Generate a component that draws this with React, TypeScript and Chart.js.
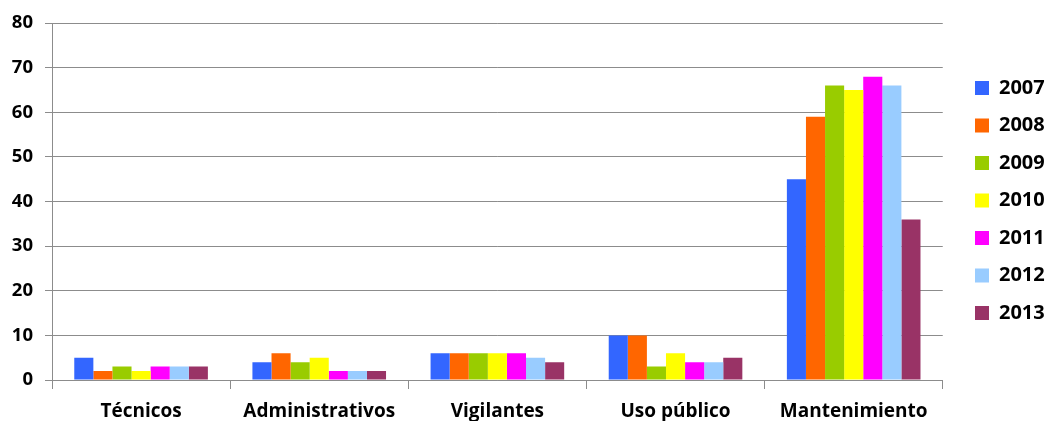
import React, { useEffect, useRef } from "react";
import { Chart, registerables } from "chart.js";

Chart.register(...registerables);

const categories = ["Técnicos", "Administrativos", "Vigilantes", "Uso público", "Mantenimiento"];
const years = ["2007", "2008", "2009", "2010", "2011", "2012", "2013"];
const v2007 = [5, 4, 6, 10, 45];
const v2008 = [2, 6, 6, 10, 59];
const v2009 = [3, 4, 6, 3, 66];
const v2010 = [2, 5, 6, 6, 65];
const v2011 = [3, 2, 6, 4, 68];
const v2012 = [3, 2, 5, 4, 66];
const v2013 = [3, 2, 4, 5, 36];
const seriesValues = [v2007, v2008, v2009, v2010, v2011, v2012, v2013];
const colors = ["#3366FF", "#FF6600", "#99CC00", "#FFFF00", "#FF00FF", "#99CCFF", "#993366"];
const yMin = 0;
const yMax = 80;
const yStep = 10;

const FONT = "'Open Sans', 'Liberation Sans', sans-serif";
const GRID = "#8c8c8c";

const legendMover = {
  id: "legendMover",
  afterLayout(chart: any) {
    const lg = chart.legend;
    if (!lg) return;
    const w = lg.width;
    const h = lg.height;
    lg.left = 957.5;
    lg.right = lg.left + w;
    lg.top = lg.top - 20;
    lg.bottom = lg.top + h;
  },
};

export default function App() {
  const ref = useRef<HTMLCanvasElement | null>(null);
  useEffect(() => {
    document.body.style.margin = "0";
    if (!ref.current) return;
    const chart = new Chart(ref.current, {
      type: "bar",
      data: {
        labels: categories,
        datasets: years.map((y, i) => ({
          label: y,
          data: seriesValues[i],
          backgroundColor: colors[i],
          borderWidth: 0,
          categoryPercentage: 0.75,
          barPercentage: 1,
        })),
      },
      options: {
        animation: false,
        responsive: false,
        maintainAspectRatio: false,
        layout: { padding: { top: 20, left: 0, right: 8, bottom: 0 } },
        plugins: {
          tooltip: { enabled: false },
          legend: {
            position: "right",
            align: "center",
            labels: {
              boxWidth: 14,
              boxHeight: 14,
              padding: 17.5,
              color: "#000",
              font: { family: FONT, size: 20, weight: "bold" },
            },
          },
        },
        scales: {
          x: {
            afterFit: (s: any) => { s.height = 41; },
            grid: {
              display: true,
              offset: true,
              drawOnChartArea: false,
              drawTicks: true,
              tickLength: 9,
              color: GRID,
            },
            border: { display: true, color: GRID, width: 1 },
            ticks: {
              color: "#000",
              padding: 11,
              font: { family: FONT, size: 19, weight: "bold" },
            },
          },
          y: {
            min: yMin,
            max: yMax,
            afterFit: (s: any) => { s.width = 52; },
            grid: {
              color: GRID,
              drawTicks: true,
              tickLength: 7,
            },
            border: { display: true, color: GRID, width: 1 },
            ticks: {
              stepSize: yStep,
              color: "#000",
              padding: 12,
              font: { family: FONT, size: 18.5, weight: "bold" },
            },
          },
        },
      },
      plugins: [legendMover],
    } as any);
    return () => chart.destroy();
  }, []);
  return <canvas ref={ref} width={1048} height={421} style={{ display: "block" }} />;
}
